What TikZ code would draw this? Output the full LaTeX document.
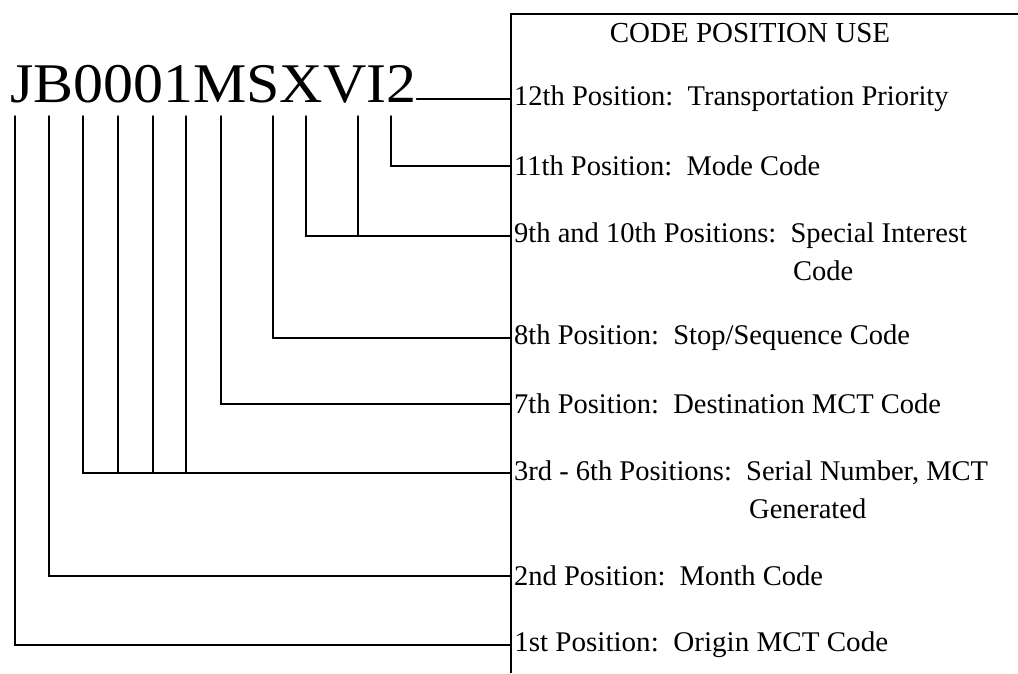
\documentclass[tikz,border=0pt]{standalone}
\usepackage{fontspec}
\setmainfont{Liberation Serif}
\begin{document}
\begin{tikzpicture}[x=1pt,y=-1pt,
  conn/.style={line width=1.5pt, line cap=round, line join=miter},
  lbl/.style={anchor=west, inner xsep=3pt, inner ysep=0pt, font=\fontsize{28.5}{32}\selectfont},
  sub/.style={anchor=west, inner sep=0pt, font=\fontsize{28.5}{32}\selectfont},
  codefont/.style={font=\fontsize{56}{60}\selectfont}]
\useasboundingbox (0,0) rectangle (1018,673);
% box
\coordinate (btl) at (511,14);
\coordinate (btr) at (1018,14);
\coordinate (bbl) at (511,673);
\draw[conn, line cap=butt] (btr) -- (btl) -- (bbl);
\node[anchor=base, inner sep=0pt, font=\fontsize{29}{32}\selectfont] (title) at (750,42) {CODE POSITION USE};
% code string
\node[codefont, anchor=base west, inner sep=0pt, xscale=1.07] (code) at (10,102) {JB0001MSXVI2};
% labels
\node[lbl] (p12) at (511,99) {12th Position:\ \ Transportation Priority};
\node[lbl] (p11) at (511,166) {11th Position:\ \ Mode Code};
\node[lbl] (p9) at (511,236) {9th and 10th Positions:\ \ Special Interest};
\node[sub] (p9b) at (793,271) {Code};
\node[lbl] (p8) at (511,338) {8th Position:\ \ Stop/Sequence Code};
\node[lbl] (p7) at (511,404) {7th Position:\ \ Destination MCT Code};
\node[lbl] (p3) at (511,473) {3rd - 6th Positions:\ \ Serial Number, MCT};
\node[sub] (p3b) at (749,509) {Generated};
\node[lbl] (p2) at (511,576) {2nd Position:\ \ Month Code};
\node[lbl, xscale=1.02] (p1) at (511,645) {1st Position:\ \ Origin MCT Code};
% tops of drop lines
\foreach \n/\x in {1/15,2/49,3/83,4/118,5/153,6/186,7/221,8/273,9/306,10/358,11/391}
  \coordinate (t\n) at (\x,116);
\coordinate (t12) at (code.east |- 0,99);
% connectors
\draw[conn] (t12) -- (p12.west);
\draw[conn] (t11) |- (p11.west);
\draw[conn] (t9) |- (p9.west);
\draw[conn] (t10) -- (t10 |- p9.west);
\draw[conn] (t8) |- (p8.west);
\draw[conn] (t7) |- (p7.west);
\draw[conn] (t3) |- (p3.west);
\foreach \n in {4,5,6} \draw[conn] (t\n) -- (t\n |- p3.west);
\draw[conn] (t2) |- (p2.west);
\draw[conn] (t1) |- (p1.west);
\end{tikzpicture}
\end{document}
